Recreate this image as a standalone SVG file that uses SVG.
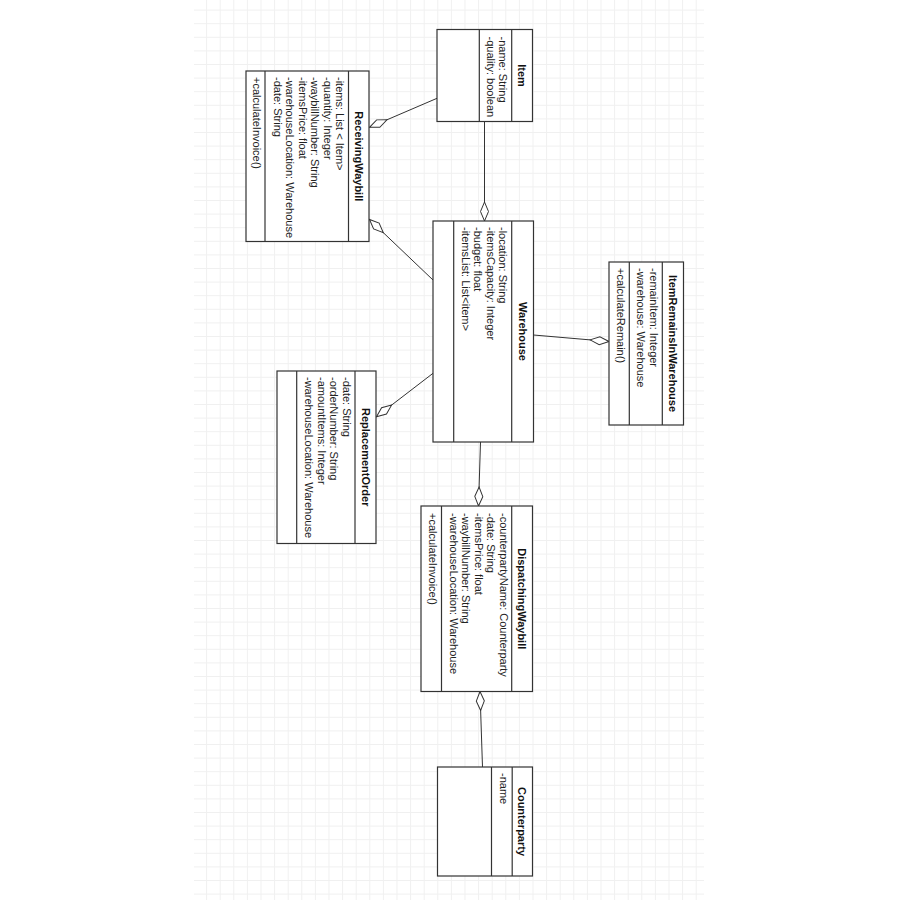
<svg xmlns="http://www.w3.org/2000/svg" width="900" height="900" viewBox="0 0 900 900">
<style>
.box{fill:#fff;stroke:#333;stroke-width:1.2}
.sep{stroke:#333;stroke-width:1.2}
.t{font-family:"Liberation Sans",Arial,sans-serif;font-size:11px;fill:#222}
.h{font-family:"Liberation Sans",Arial,sans-serif;font-size:11px;font-weight:bold;fill:#111;text-anchor:middle}
.c{fill:none;stroke:#333;stroke-width:1}
</style>
<defs>
<pattern id="grid" x="2.1" y="9.6" width="13.6" height="13.6" patternUnits="userSpaceOnUse">
<path d="M0.5 0V13.6M0 0.5H13.6" stroke="#f0f0f0" stroke-width="1" fill="none"/>
</pattern>
<marker id="dia" markerUnits="userSpaceOnUse" viewBox="-20 -5 21 10" refX="0" refY="0" markerWidth="21" markerHeight="10" orient="auto">
<path d="M0,0 L-9.5,-4 L-19,0 L-9.5,4 Z" fill="#fff" stroke="#333" stroke-width="1"/>
</marker>
</defs>
<rect width="900" height="900" fill="#fff"/>
<rect x="194" y="0" width="510" height="900" fill="url(#grid)"/>

<g id="connectors">
<path class="c" d="M484.5,121.5 L484.5,221" marker-end="url(#dia)"/>
<path class="c" d="M437,98.3 L369.5,127.3" marker-end="url(#dia)"/>
<path class="c" d="M433,280 L369.5,219.5" marker-end="url(#dia)"/>
<path class="c" d="M533.5,335 L609,341.5" marker-end="url(#dia)"/>
<path class="c" d="M433,373.3 L376.5,416.7" marker-end="url(#dia)"/>
<path class="c" d="M480.5,442 L478.5,506" marker-end="url(#dia)"/>
<path class="c" d="M482.5,767 L480,691.5" marker-end="url(#dia)"/>
</g>

<g id="Item" transform="translate(532.5,29.5) rotate(90)">
<rect class="box" x="0" y="0" width="92" height="95.5"/>
<line class="sep" x1="0" y1="20.8" x2="92" y2="20.8"/>
<line class="sep" x1="0" y1="53.2" x2="92" y2="53.2"/>
<text class="h" x="46" y="14.5">Item</text>
<text class="t" x="7" y="33.3">-name: String</text>
<text class="t" x="7" y="45.7">-quality: boolean</text>
</g>

<g id="ReceivingWaybill" transform="translate(369,71) rotate(90)">
<rect class="box" x="0" y="0" width="170.5" height="123"/>
<line class="sep" x1="0" y1="20.5" x2="170.5" y2="20.5"/>
<line class="sep" x1="0" y1="104" x2="170.5" y2="104"/>
<text class="h" x="85.25" y="14.5">ReceivingWaybill</text>
<text class="t" x="6" y="33">-items: List &lt; Item&gt;</text>
<text class="t" x="6" y="45.4">-quantity: Integer</text>
<text class="t" x="6" y="57.8">-waybillNumber: String</text>
<text class="t" x="6" y="70.2">-itemsPrice: float</text>
<text class="t" x="6" y="82.6">-warehouseLocation: Warehouse</text>
<text class="t" x="6" y="95">-date: String</text>
<text class="t" x="6" y="116.5">+calculateInvoice()</text>
</g>

<g id="Warehouse" transform="translate(533.5,221) rotate(90)">
<rect class="box" x="0" y="0" width="221" height="100.5"/>
<line class="sep" x1="0" y1="21.8" x2="221" y2="21.8"/>
<line class="sep" x1="0" y1="79.8" x2="221" y2="79.8"/>
<text class="h" x="110.5" y="15">Warehouse</text>
<text class="t" x="6" y="34.3">-location: String</text>
<text class="t" x="6" y="46.7">-itemsCapacity: Integer</text>
<text class="t" x="6" y="59.1">-budget: float</text>
<text class="t" x="6" y="71.5">-itemsList: List&lt;item&gt;</text>
</g>

<g id="ItemRemainsInWarehouse" transform="translate(683.5,262) rotate(90)">
<rect class="box" x="0" y="0" width="163" height="74.5"/>
<line class="sep" x1="0" y1="21.2" x2="163" y2="21.2"/>
<line class="sep" x1="0" y1="54.2" x2="163" y2="54.2"/>
<text class="h" x="81.5" y="14.7">ItemRemainsInWarehouse</text>
<text class="t" x="6" y="33.7">-remainItem: Integer</text>
<text class="t" x="6" y="46.1">-warehouse: Warehouse</text>
<text class="t" x="6" y="66.8">+calculateRemain()</text>
</g>

<g id="ReplacementOrder" transform="translate(376,371) rotate(90)">
<rect class="box" x="0" y="0" width="172.5" height="99"/>
<line class="sep" x1="0" y1="21" x2="172.5" y2="21"/>
<line class="sep" x1="0" y1="79.3" x2="172.5" y2="79.3"/>
<text class="h" x="86.25" y="14.5">ReplacementOrder</text>
<text class="t" x="6" y="33.5">-date: String</text>
<text class="t" x="6" y="45.9">-orderNumber: String</text>
<text class="t" x="6" y="58.3">-amountItems: Integer</text>
<text class="t" x="6" y="70.7">-warehouseLocation: Warehouse</text>
</g>

<g id="DispatchingWaybill" transform="translate(532.5,506) rotate(90)">
<rect class="box" x="0" y="0" width="185.5" height="111.5"/>
<line class="sep" x1="0" y1="20.8" x2="185.5" y2="20.8"/>
<line class="sep" x1="0" y1="91" x2="185.5" y2="91"/>
<text class="h" x="92.75" y="14.5">DispatchingWaybill</text>
<text class="t" x="7" y="33">-counterpartyName: Counterparty</text>
<text class="t" x="7" y="45.4">-date: String</text>
<text class="t" x="7" y="57.8">-itemsPrice: float</text>
<text class="t" x="7" y="70.2">-waybillNumber: String</text>
<text class="t" x="7" y="82.6">-warehouseLocation: Warehouse</text>
<text class="t" x="7" y="103.5">+calculateInvoice()</text>
</g>

<g id="Counterparty" transform="translate(532.5,767) rotate(90)">
<rect class="box" x="0" y="0" width="109" height="95"/>
<line class="sep" x1="0" y1="20.3" x2="109" y2="20.3"/>
<line class="sep" x1="0" y1="41" x2="109" y2="41"/>
<text class="h" x="54.5" y="14.3">Counterparty</text>
<text class="t" x="6" y="32.8">-name</text>
</g>
</svg>
